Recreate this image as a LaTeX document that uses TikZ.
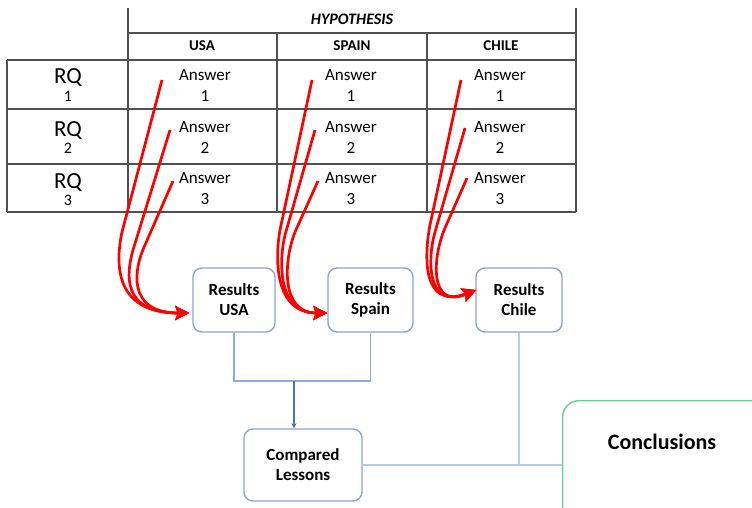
\documentclass[tikz,border=0pt]{standalone}
\usepackage{fontspec}
\setmainfont{Carlito}
\usetikzlibrary{arrows.meta}
\definecolor{tabline}{RGB}{80,80,80}
\definecolor{boxblue}{RGB}{143,164,205}
\definecolor{conblue}{RGB}{143,170,220}
\definecolor{arrblue}{RGB}{68,114,196}
\definecolor{lightblue}{RGB}{185,202,232}
\definecolor{congreen}{RGB}{112,204,146}
\definecolor{redarr}{RGB}{255,0,0}
\tikzset{
  tab/.style={draw=tabline, line width=1.3pt},
  hdr/.style={font=\fontsize{15}{17}\selectfont\bfseries},
  ans/.style={font=\fontsize{17}{21}\selectfont, align=center},
  rq/.style={font=\fontsize{23}{24}\selectfont, inner sep=0pt},
  rqsub/.style={font=\fontsize{16}{17}\selectfont, inner sep=0pt},
  resbox/.style={draw=boxblue, line width=1.4pt, rounded corners=9pt, align=center,
     font=\fontsize{17}{20}\selectfont\bfseries, inner sep=0pt},
  redcurve/.style={draw=redarr, line width=2.7pt, -{Stealth[length=14pt,width=14pt,inset=2.5pt]}},
  conn/.style={draw=conblue, line width=1.4pt},
  lconn/.style={draw=lightblue, line width=1.4pt},
}
\begin{document}
\begin{tikzpicture}[x=1pt,y=-1pt]
\useasboundingbox (0,0) rectangle (752,507);
\clip (0,0) rectangle (752,507);
\fill[white] (0,0) rectangle (752,507);
% table
\draw[tab] (128,8) -- (128,212);
\draw[tab] (576,8) -- (576,212);
\draw[tab] (128,33) -- (576,33);
\draw[tab] (7,60) -- (576,60);
\draw[tab] (7,109) -- (576,109);
\draw[tab] (7,164) -- (576,164);
\draw[tab] (7,212) -- (576,212);
\draw[tab] (7,60) -- (7,212);
\draw[tab] (277,33) -- (277,212);
\draw[tab] (427,33) -- (427,212);
\node[font=\fontsize{16}{18}\selectfont\bfseries\itshape] (hyp) at (352,19) {HYPOTHESIS};
\node[hdr] (husa) at (202,46) {USA};
\node[hdr] (hspa) at (352,46) {SPAIN};
\node[hdr] (hchi) at (501,46) {CHILE};
% RQ labels
\node[rq] (rq1) at (68,78) {RQ};
\node[rqsub] (rq1n) at (68,96) {1};
\node[rq] (rq2) at (68,131) {RQ};
\node[rqsub] (rq2n) at (68,148) {2};
\node[rq] (rq3) at (68,183) {RQ};
\node[rqsub] (rq3n) at (68,200) {3};
% answers
\node[ans] (a11) at (205,86) {Answer\\1};
\node[ans] (a12) at (205,138) {Answer\\2};
\node[ans] (a13) at (205,189) {Answer\\3};
\node[ans] (a21) at (351,86) {Answer\\1};
\node[ans] (a22) at (351,138) {Answer\\2};
\node[ans] (a23) at (351,189) {Answer\\3};
\node[ans] (a31) at (500,86) {Answer\\1};
\node[ans] (a32) at (500,138) {Answer\\2};
\node[ans] (a33) at (500,189) {Answer\\3};
% result boxes
\node[resbox, minimum width=82pt, minimum height=64pt] (rusa) at (234,300) {Results\\USA};
\node[resbox, minimum width=85pt, minimum height=64pt] (rspa) at (370.5,300) {Results\\Spain};
\node[resbox, minimum width=86pt, minimum height=64pt] (rchi) at (519,300) {Results\\Chile};
\node[resbox, minimum width=118pt, minimum height=72pt] (cl) at (303,465) {Compared\\Lessons};
\node[draw=congreen, line width=1.4pt, rounded corners=16pt, minimum width=240pt, minimum height=160pt, anchor=north west, inner sep=0pt] (concl) at (562,400) {};
\node[font=\fontsize{22}{25}\selectfont\bfseries] (concltxt) at (662,442) {Conclusions};
% red curves USA
\coordinate (eusa) at ([xshift=-3pt]rusa.west |- 0,313);
\coordinate (espa) at ([xshift=0pt]rspa.west |- 0,313);
\coordinate (echi) at ([xshift=1pt,yshift=10pt]rchi.west);
\draw[redcurve] (162,80) -- (122,232) .. controls (115,265) and (115,313) .. (eusa);
\draw[redcurve] (170,130) -- (133,250) .. controls (126,275) and (122,313) .. (eusa);
\draw[redcurve] (173,181) -- (145,245) .. controls (134,268) and (126,313) .. (eusa);
% Spain
\draw[redcurve] (312,80) -- (280,230) .. controls (275,258) and (274,313) .. (espa);
\draw[redcurve] (315,130) -- (285,235) .. controls (279,260) and (277,313) .. (espa);
\draw[redcurve] (318,181) -- (295,232) .. controls (284,260) and (280,313) .. (espa);
% Chile
\draw[redcurve] (461,80) -- (430,225) .. controls (424,256) and (422,310) .. (echi);
\draw[redcurve] (465,128) -- (435,232) .. controls (428,256) and (425,310) .. (echi);
\draw[redcurve] (467,178) -- (445,228) .. controls (433,255) and (428,310) .. (echi);
% connectors
\coordinate (junc) at (303,381);
\draw[conn] (rusa.south) -- (rusa.south |- junc) -- (rspa.south |- junc) -- (rspa.south);
\draw[draw=arrblue, line width=1.2pt, -{Stealth[length=5pt,width=5pt]}] (junc -| cl.north) ++(-9,0) coordinate (jarr) -- (jarr |- cl.north);
\draw[lconn] (cl.east) -- (cl.east -| concl.west);
\draw[lconn] (rchi.south) -- (rchi.south |- cl.east);
\end{tikzpicture}
\end{document}
